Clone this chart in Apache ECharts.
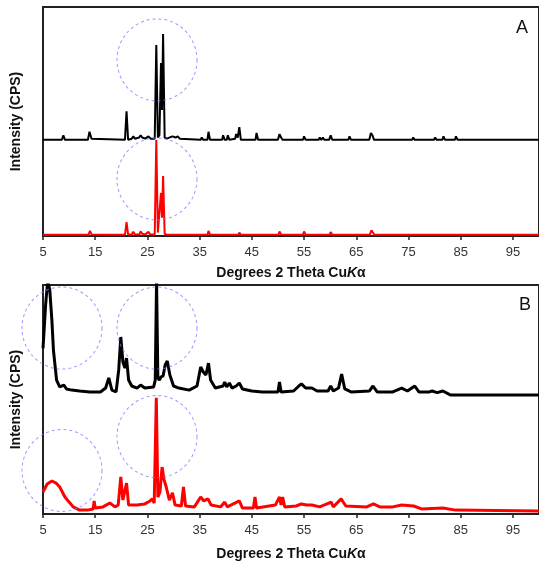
<!DOCTYPE html>
<html><head><meta charset="utf-8">
<script src="https://cdn.jsdelivr.net/npm/echarts@6/dist/echarts.min.js"></script>
<style>html,body{margin:0;padding:0;background:#fff}#c{width:539px;height:564px}</style>
</head><body><div id="c"></div>
<script>
// 2-theta start of the axis; ticks every 10 degrees from here
const xStart = 5;
const tickLabels = ['5','15','25','35','45','55','65','75','85','95'];

// Panel A, black pattern (offset trace): [2theta, intensity]
const blackA = [[5,42],[8.6,42],[8.9,44],[9.2,42],[13.6,42],[13.9,45.5],[14.3,42.5],[14.6,42],[20.7,42],[21.0,54.5],[21.3,42],
[22.0,42.5],[22.3,43.5],[22.6,42.5],[23.4,43],[23.7,44],[24.0,43],[24.3,43.5],[24.6,42.5],[25.2,43.5],[25.6,42.5],[26.4,42.5],
[26.7,83.4],[27.0,43],[27.3,44],[27.6,75.5],[27.8,55],[28.0,88.2],[28.3,43],[28.7,42.5],[29.8,43.5],[30.1,44],[30.4,43],[30.8,43.5],
[31.2,42.5],[35.2,42],[35.4,43],[35.7,42],[36.5,42],[36.7,45.5],[37.0,42],[39.3,42],[39.5,44],[39.8,42],[40.2,42],[40.4,44],[40.7,42],
[41.8,42.5],[42.0,44.5],[42.3,43],[42.6,47.5],[42.9,42],[45.7,42],[45.9,45],[46.2,42],[50.0,42],[50.3,44.5],[50.6,43],[50.9,42],
[54.8,42],[55.0,43.5],[55.3,42],[57.8,42],[58.0,43],[58.3,42],[58.6,43],[58.9,42],[59.8,42],[60.1,44],[60.4,42],[63.5,42],[63.7,43.5],
[64.0,42],[67.5,42],[67.8,45],[68.1,44],[68.4,42],[75.7,42],[75.9,43],[76.2,42],[79.9,42],[80.1,43],[80.4,42],[81.5,42],[81.7,43.5],
[82.0,42],[83.9,42],[84.1,43.5],[84.4,42],[90.7,42],[90.9,42.7],[91.2,42],[100,42]];

// Panel A, red pattern
const redA = [[5,0.5],[13.7,0.5],[14.0,2.2],[14.3,0.7],[20.7,0.5],[21.0,6.1],[21.3,0.7],[22.0,0.7],[22.3,1.8],[22.6,0.7],[23.5,0.8],
[23.7,2],[24.0,1],[24.3,1.8],[24.6,0.7],[25.2,1.8],[25.5,0.7],[26.4,0.8],[26.7,41.9],[27.0,1.5],[27.3,2],[27.6,18.8],[27.8,8],[28.0,26.2],
[28.3,1],[28.7,0.6],[29.9,0.6],[30.1,1.3],[30.5,0.6],[36.5,0.5],[36.7,2.2],[37.0,0.5],[42.4,0.5],[42.6,1.5],[42.9,0.5],[50.1,0.5],
[50.3,2],[50.6,0.7],[54.8,0.5],[55.0,2],[55.3,0.5],[59.9,0.5],[60.1,1.7],[60.4,0.5],[67.6,0.5],[67.9,2.5],[68.2,2],[68.5,0.5],
[81.5,0.5],[81.7,1.2],[82.0,0.5],[100,0.5]];

// Panel B, black pattern
const blackB = [[5,72.3],[5.5,91.3],[5.9,102],[6.3,97.8],[6.7,84.7],[7.0,71.6],[7.6,58.5],[8.2,55.5],[9.0,56.3],[9.5,54.6],[10.5,54.1],
[12,53.7],[14,53.3],[16,53.3],[17.0,55.0],[17.6,59.4],[18.2,54.1],[19.0,53.3],[19.5,62.9],[19.9,77.3],[20.3,66.4],[20.7,63.8],[21.0,68.1],
[21.4,58.5],[22,55.9],[23,55.0],[23.7,56.3],[24.5,55],[26.2,55.5],[26.5,58.5],[26.75,102],[27.0,59.4],[27.3,58.5],[27.6,59.8],[28.0,60.3],
[28.4,65.1],[28.8,66.8],[29.3,60.7],[30,55.9],[31,55],[33,54.1],[34.5,55.9],[35.2,64.2],[35.7,62],[36.2,60.7],[36.7,65.9],[37.1,58.5],
[38,55],[39.5,55.9],[39.8,57.6],[40.2,55.5],[40.7,57.2],[41.2,55],[42.0,55.9],[42.6,57.2],[43.2,54.6],[45,53.7],[47,53.3],[50.0,53.3],
[50.3,57.6],[50.6,53.3],[53,53.7],[54.0,55.9],[54.5,56.8],[55.3,55],[56.5,55],[57.5,53.7],[59.6,53.7],[60.1,55.9],[60.6,53.7],[61.6,55],
[62.2,61.1],[62.8,54.6],[64,53.3],[67.5,53.7],[68.2,55.9],[69,53.3],[72,53.3],[73.7,55],[74.8,53.7],[76.2,55.9],[77,53.3],[79,53.3],
[79.5,53.7],[80.5,53.0],[81.6,53.7],[83,52.0],[90,52.0],[100,52.0]];

// Panel B, red pattern
const redB = [[5,9.6],[5.8,13.1],[6.7,14.4],[7.5,13.5],[8.2,11.8],[9.2,7.4],[10.0,5.2],[10.8,3.1],[12,1.7],[13.5,1.7],[14.6,2.2],[14.8,5.7],
[15.0,2.6],[16.5,3.1],[17.8,4.8],[18.8,3.1],[19.4,3.9],[19.9,16.2],[20.3,6.1],[20.6,6.1],[21.0,13.5],[21.4,3.9],[23,3.9],[24.5,4.4],
[25.5,5.7],[25.9,6.6],[26.3,4.8],[26.7,50.7],[27.0,7.4],[27.4,9.6],[27.8,20.5],[28.2,14.8],[28.6,11.8],[29.2,6.1],[29.8,9.2],[30.3,3.9],
[31.5,3.5],[31.9,11.8],[32.3,3.5],[34,3.1],[35.2,7.4],[35.8,5.7],[36.6,6.6],[37.2,3.9],[39,3.1],[39.8,5.2],[40.3,3.1],[42.6,5.7],
[43.2,2.6],[45.3,2.6],[45.6,7.4],[45.9,2.6],[49.5,3.9],[50.3,7.4],[50.6,3.9],[50.9,7.4],[51.3,3.1],[53.5,3.5],[54.5,4.4],[55.5,3.9],
[56.5,3.9],[58,3.1],[60.2,5.2],[60.6,3.1],[62.1,6.6],[63,3.5],[67,3.1],[68.3,4.4],[69.5,3.1],[72,3.1],[73.7,3.9],[76,3.5],[77.5,2.2],
[81.6,2.6],[84,1.7],[100,1.3]];

// Dashed highlight circles (centres in data coordinates)
const circlesA = [[26.83,76.9],[26.83,24.9]];
const circlesB = [[8.64,81.2],[26.83,81.2],[8.64,19.0],[26.83,33.8]];

const shift = arr => arr.map(p => [p[0] - xStart, p[1]]);
const font = "'Liberation Sans', Arial, sans-serif";

function xAxis(gridIndex, gap) {
  return {
    type: 'value', gridIndex, min: 0, max: 100 - xStart, interval: 10,
    axisLine: {show: true, lineStyle: {color: '#222', width: 2}},
    axisTick: {show: true, inside: false, length: 4, lineStyle: {color: '#222', width: 1.5}},
    axisLabel: {margin: 10, color: '#333', fontSize: 13, fontFamily: font, showMaxLabel: false,
      formatter: v => { const i = Math.round(v / 10); return (Math.abs(v - i * 10) < 1e-6 && i < tickLabels.length) ? tickLabels[i] : ''; }},
    splitLine: {show: false},
    name: '{a|Degrees 2 Theta Cu}{i|K}{a|α}', nameLocation: 'middle', nameGap: gap,
    nameTextStyle: {rich: {
      a: {fontSize: 14, fontWeight: 'bold', fontFamily: font, color: '#111'},
      i: {fontSize: 14, fontWeight: 'bold', fontStyle: 'italic', fontFamily: font, color: '#111'}
    }}
  };
}
function yAxis(gridIndex) {
  return {
    type: 'value', gridIndex, min: 0, max: 100,
    axisLine: {show: true, lineStyle: {color: '#222', width: 2}},
    axisTick: {show: false}, axisLabel: {show: false}, splitLine: {show: false},
    name: 'Intensity (CPS)', nameLocation: 'middle', nameRotate: 90, nameGap: 20,
    nameTextStyle: {fontSize: 14, fontWeight: 'bold', fontFamily: font, color: '#111'}
  };
}
function line(data, color, width, idx) {
  return {type: 'line', xAxisIndex: idx, yAxisIndex: idx, data: shift(data), showSymbol: false, symbol: 'none',
    lineStyle: {color, width}, itemStyle: {color}, animation: false, silent: true};
}
function circles(data, idx) {
  return {type: 'scatter', xAxisIndex: idx, yAxisIndex: idx, data: shift(data), symbol: 'circle', symbolSize: [80, 82],
    clip: false, silent: true, z: 5, animation: false,
    itemStyle: {color: 'rgba(0,0,0,0)', borderColor: '#7f7fff', borderWidth: 1, borderType: [3, 3]}};
}

const chart = echarts.init(document.getElementById('c'), null, {renderer: 'canvas'});
chart.setOption({
  backgroundColor: '#fff',
  animation: false,
  grid: [
    {left: 43, top: 7, width: 496, height: 229, show: true, borderColor: '#222', borderWidth: 2, containLabel: false},
    {left: 43, top: 285, width: 496, height: 229, show: true, borderColor: '#222', borderWidth: 2, containLabel: false}
  ],
  xAxis: [xAxis(0, 30), xAxis(1, 33)],
  yAxis: [yAxis(0), yAxis(1)],
  graphic: [
    {type: 'text', left: 516, top: 19, style: {text: 'A', fontSize: 18, fontFamily: font, fill: '#111'}},
    {type: 'text', left: 519, top: 296, style: {text: 'B', fontSize: 18, fontFamily: font, fill: '#111'}}
  ],
  series: [
    line(redA, '#ff0000', 2, 0),
    line(blackA, '#000000', 2, 0),
    circles(circlesA, 0),
    line(redB, '#ff0000', 3, 1),
    line(blackB, '#000000', 3, 1),
    circles(circlesB, 1)
  ]
});
</script></body></html>
